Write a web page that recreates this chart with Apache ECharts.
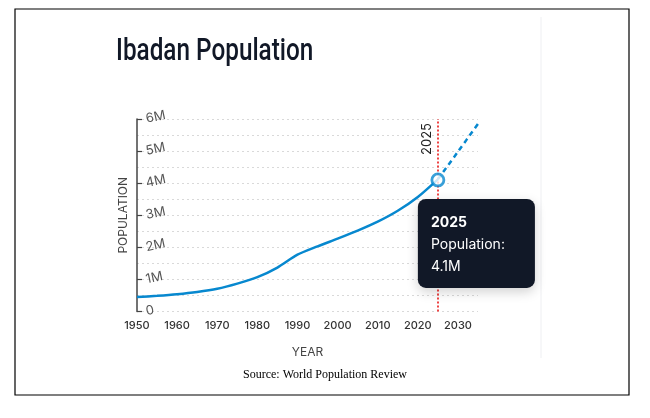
<!DOCTYPE html>
<html><head><meta charset="utf-8">
<script src="https://cdn.jsdelivr.net/npm/echarts@6/dist/echarts.min.js"></script>
<style>html,body{margin:0;padding:0;background:#fff}#c{width:650px;height:418px}</style>
</head><body><div id="c"></div>
<script>
// Historical population (millions)
const years = [1950, 1955, 1960, 1965, 1970, 1975, 1980, 1985, 1990, 1995, 2000, 2005, 2010, 2015, 2020, 2025];
const population = [0.45, 0.49, 0.54, 0.61, 0.71, 0.87, 1.07, 1.37, 1.77, 2.03, 2.27, 2.52, 2.80, 3.14, 3.57, 4.12];
// Projection (millions)
const projYears = [2025, 2030, 2035];
const projPopulation = [4.12, 4.98, 5.85];
// Highlighted year
const markYear = 2025;
const markValue = 4.1;
const yTicks = [0, 1, 2, 3, 4, 5, 6];
const xTickLabels = [1950, 1960, 1970, 1980, 1990, 2000, 2010, 2020, 2030];

const blue = '#0788cf';
const font = 'Inter, "Noto Sans", sans-serif';
const chart = echarts.init(document.getElementById('c'), null, {renderer: 'canvas'});
chart.setOption({
  animation: false,
  backgroundColor: '#fff',
  title: [
    {text: 'Source: World Population Review', left: 'center', top: 364,
     textStyle: {fontFamily: '"Liberation Serif", "Times New Roman", serif', fontSize: 12, fontWeight: 'normal', color: '#000'}}
  ],
  graphic: [
    {type: 'rect', shape: {x: 15, y: 9, width: 614, height: 386}, style: {fill: 'none', stroke: '#000', lineWidth: 1.2}, silent: true},
    {type: 'line', shape: {x1: 541, y1: 17, x2: 541, y2: 358}, style: {stroke: '#eeeff2', lineWidth: 1}, silent: true},
    {type: 'text', x: 116, y: 52, scaleX: 0.76, silent: true,
     style: {text: 'Ibadan Population', x: 0, y: 0, fontFamily: 'Roboto, sans-serif', fontSize: 32, fontWeight: 500,
             fill: '#111827', verticalAlign: 'middle', textVerticalAlign: 'middle', align: 'left'}}
  ],
  grid: {left: 137, right: 172, top: 119, bottom: 106.5},
  xAxis: {
    type: 'value', min: 1950, max: 2035, interval: 10,
    axisLine: {show: false}, axisTick: {show: false}, splitLine: {show: false},
    axisLabel: {
      margin: 9, color: '#333', fontSize: 11, fontFamily: font, fontWeight: 500,
      formatter: v => xTickLabels.indexOf(v) >= 0 ? String(v) : ''
    },
    name: 'YEAR', nameLocation: 'middle', nameGap: 35,
    nameTextStyle: {color: '#444', fontSize: 12, fontFamily: font}
  },
  yAxis: {
    type: 'value', min: 0, max: 6, interval: 1,
    axisLine: {show: true, lineStyle: {color: '#444', width: 1.5}},
    axisTick: {show: true, inside: true, length: 5, lineStyle: {color: '#444', width: 1.2}},
    axisLabel: {
      inside: true, margin: 9, rotate: 12, color: '#555', fontSize: 13, fontFamily: font,
      formatter: v => yTicks.indexOf(v) >= 0 ? (v === 0 ? '0' : v + 'M') : ''
    },
    splitLine: {show: true, lineStyle: {color: '#d9d9d9', type: [2, 3], width: 1}},
    minorTick: {show: false, splitNumber: 2},
    minorSplitLine: {show: true, lineStyle: {color: '#d9d9d9', type: [2, 3], width: 1}},
    name: 'POPULATION', nameLocation: 'middle', nameGap: 8, nameRotate: 90,
    nameTextStyle: {color: '#444', fontSize: 12, fontFamily: font}
  },
  series: [
    {
      type: 'line', data: years.map((y, i) => [y, population[i]]),
      showSymbol: false, smooth: 0.25, z: 3,
      lineStyle: {color: blue, width: 2.5}
    },
    {
      type: 'line', data: projYears.map((y, i) => [y, projPopulation[i]]),
      showSymbol: false, smooth: 0.3, z: 3,
      lineStyle: {color: blue, width: 2.5, type: [5, 4]},
      markLine: {
        silent: true, symbol: 'none', z: 2,
        lineStyle: {color: '#ef4444', type: [2, 2], width: 2},
        label: {show: true, position: 'insideEndTop', formatter: String(markYear), color: '#222', fontSize: 13, fontFamily: font, distance: 4},
        data: [{xAxis: markYear}]
      }
    },
    {
      type: 'scatter', data: [[markYear, markValue]], z: 5,
      symbol: 'circle', symbolSize: 12,
      itemStyle: {color: '#fff', borderColor: blue, borderWidth: 2.8},
      markPoint: {
        z: 10, symbol: 'circle', symbolSize: 1, itemStyle: {color: 'rgba(0,0,0,0)'},
        data: [{coord: [markYear, markValue]}],
        label: {
          show: true, position: [-19.5, 19.5],
          backgroundColor: '#111827', borderRadius: 8, padding: [13, 30, 10, 13],
          shadowBlur: 12, shadowColor: 'rgba(0,0,0,0.18)', shadowOffsetY: 4,
          formatter: '{a|' + markYear + '}\n{b|Population:}\n{b|' + markValue + 'M}',
          rich: {
            a: {color: '#fff', fontSize: 14, fontWeight: 'bold', fontFamily: font, lineHeight: 22},
            b: {color: '#fff', fontSize: 14, fontFamily: font, lineHeight: 22}
          }
        }
      }
    }
  ]
});
</script></body></html>
